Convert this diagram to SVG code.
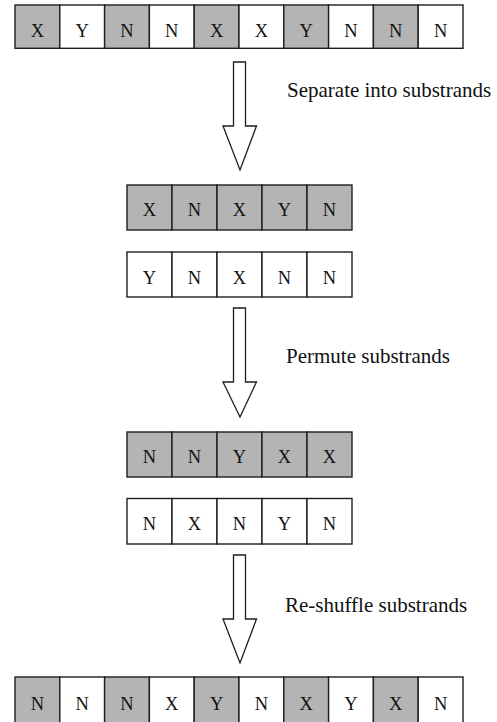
<svg xmlns="http://www.w3.org/2000/svg" width="497" height="722" viewBox="0 0 497 722">
<style>
  .g { fill: #b4b4b4; stroke: #1e1e1e; stroke-width: 1.4; }
  .w { fill: #ffffff; stroke: #1e1e1e; stroke-width: 1.4; }
  .c { font-family: "Liberation Serif", "Times New Roman", serif; font-size: 18.5px; fill: #111; text-anchor: middle; }
  .lbl { font-family: "Liberation Serif", "Times New Roman", serif; font-size: 21px; fill: #111; }
  .arr { fill: #ffffff; stroke: #1e1e1e; stroke-width: 1.3; stroke-linejoin: miter; }
</style>
<rect width="497" height="722" fill="#ffffff"/>

<g id="strand-original">
  <rect class="g" x="15" y="5" width="44.8" height="43.3"/>
  <rect class="w" x="59.8" y="5" width="44.8" height="43.3"/>
  <rect class="g" x="104.6" y="5" width="44.8" height="43.3"/>
  <rect class="w" x="149.4" y="5" width="44.8" height="43.3"/>
  <rect class="g" x="194.2" y="5" width="44.8" height="43.3"/>
  <rect class="w" x="239" y="5" width="44.8" height="43.3"/>
  <rect class="g" x="283.8" y="5" width="44.8" height="43.3"/>
  <rect class="w" x="328.6" y="5" width="44.8" height="43.3"/>
  <rect class="g" x="373.4" y="5" width="44.8" height="43.3"/>
  <rect class="w" x="418.2" y="5" width="44.8" height="43.3"/>
  <text class="c" x="37.4" y="37">X</text>
  <text class="c" x="82.2" y="37">Y</text>
  <text class="c" x="127" y="37">N</text>
  <text class="c" x="171.8" y="37">N</text>
  <text class="c" x="216.6" y="37">X</text>
  <text class="c" x="261.4" y="37">X</text>
  <text class="c" x="306.2" y="37">Y</text>
  <text class="c" x="351" y="37">N</text>
  <text class="c" x="395.8" y="37">N</text>
  <text class="c" x="440.6" y="37">N</text>
</g>

<g id="substrand-grey-1">
  <rect class="g" x="127" y="185" width="45" height="45"/>
  <rect class="g" x="172" y="185" width="45" height="45"/>
  <rect class="g" x="217" y="185" width="45" height="45"/>
  <rect class="g" x="262" y="185" width="45" height="45"/>
  <rect class="g" x="307" y="185" width="45" height="45"/>
  <text class="c" x="149.5" y="216">X</text>
  <text class="c" x="194.5" y="216">N</text>
  <text class="c" x="239.5" y="216">X</text>
  <text class="c" x="284.5" y="216">Y</text>
  <text class="c" x="329.5" y="216">N</text>
</g>

<g id="substrand-white-1">
  <rect class="w" x="127" y="252" width="45" height="45"/>
  <rect class="w" x="172" y="252" width="45" height="45"/>
  <rect class="w" x="217" y="252" width="45" height="45"/>
  <rect class="w" x="262" y="252" width="45" height="45"/>
  <rect class="w" x="307" y="252" width="45" height="45"/>
  <text class="c" x="149.5" y="283.5">Y</text>
  <text class="c" x="194.5" y="283.5">N</text>
  <text class="c" x="239.5" y="283.5">X</text>
  <text class="c" x="284.5" y="283.5">N</text>
  <text class="c" x="329.5" y="283.5">N</text>
</g>

<g id="substrand-grey-2">
  <rect class="g" x="127" y="432" width="45" height="45"/>
  <rect class="g" x="172" y="432" width="45" height="45"/>
  <rect class="g" x="217" y="432" width="45" height="45"/>
  <rect class="g" x="262" y="432" width="45" height="45"/>
  <rect class="g" x="307" y="432" width="45" height="45"/>
  <text class="c" x="149.5" y="463">N</text>
  <text class="c" x="194.5" y="463">N</text>
  <text class="c" x="239.5" y="463">Y</text>
  <text class="c" x="284.5" y="463">X</text>
  <text class="c" x="329.5" y="463">X</text>
</g>

<g id="substrand-white-2">
  <rect class="w" x="127" y="498.5" width="45" height="45.5"/>
  <rect class="w" x="172" y="498.5" width="45" height="45.5"/>
  <rect class="w" x="217" y="498.5" width="45" height="45.5"/>
  <rect class="w" x="262" y="498.5" width="45" height="45.5"/>
  <rect class="w" x="307" y="498.5" width="45" height="45.5"/>
  <text class="c" x="149.5" y="530">N</text>
  <text class="c" x="194.5" y="530">X</text>
  <text class="c" x="239.5" y="530">N</text>
  <text class="c" x="284.5" y="530">Y</text>
  <text class="c" x="329.5" y="530">N</text>
</g>

<g id="strand-reshuffled">
  <rect class="g" x="15" y="677" width="44.8" height="47"/>
  <rect class="w" x="59.8" y="677" width="44.8" height="47"/>
  <rect class="g" x="104.6" y="677" width="44.8" height="47"/>
  <rect class="w" x="149.4" y="677" width="44.8" height="47"/>
  <rect class="g" x="194.2" y="677" width="44.8" height="47"/>
  <rect class="w" x="239" y="677" width="44.8" height="47"/>
  <rect class="g" x="283.8" y="677" width="44.8" height="47"/>
  <rect class="w" x="328.6" y="677" width="44.8" height="47"/>
  <rect class="g" x="373.4" y="677" width="44.8" height="47"/>
  <rect class="w" x="418.2" y="677" width="44.8" height="47"/>
  <text class="c" x="37.4" y="710">N</text>
  <text class="c" x="82.2" y="710">N</text>
  <text class="c" x="127" y="710">N</text>
  <text class="c" x="171.8" y="710">X</text>
  <text class="c" x="216.6" y="710">Y</text>
  <text class="c" x="261.4" y="710">N</text>
  <text class="c" x="306.2" y="710">X</text>
  <text class="c" x="351" y="710">Y</text>
  <text class="c" x="395.8" y="710">X</text>
  <text class="c" x="440.6" y="710">N</text>
</g>

<g id="connectors">
  <polygon class="arr" points="233.5,62 245.5,62 245.5,126 256.5,126 240,170 223,126 233.5,126"/>
  <polygon class="arr" points="233.5,308 245.5,308 245.5,382 256.5,382 240,417 223,382 233.5,382"/>
  <polygon class="arr" points="233.5,555 245.5,555 245.5,619 256.5,619 240,663 223,619 233.5,619"/>
  <text class="lbl" x="287" y="97">Separate into substrands</text>
  <text class="lbl" x="286" y="363">Permute substrands</text>
  <text class="lbl" x="285" y="612">Re-shuffle substrands</text>
</g>
</svg>
